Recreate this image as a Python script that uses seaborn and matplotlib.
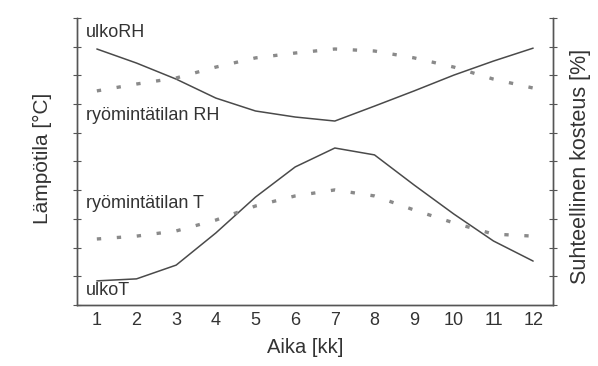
import matplotlib
matplotlib.use('Agg')
import matplotlib.pyplot as plt
import seaborn as sns
import pandas as pd

kuukausi = list(range(1, 13))
# asteikkoyksiköt 0..10 (akseleilla ei lukuarvoja)
ulko_rh = [8.92, 8.43, 7.87, 7.21, 6.76, 6.55, 6.41, 6.93, 7.46, 8.01, 8.50, 8.95]
ryomintatila_rh = [7.46, 7.70, 7.91, 8.29, 8.61, 8.78, 8.92, 8.85, 8.61, 8.29, 7.87, 7.56]
ulko_t = [0.84, 0.91, 1.39, 2.51, 3.76, 4.81, 5.47, 5.23, 4.18, 3.17, 2.23, 1.53]
ryomintatila_t = [2.30, 2.40, 2.58, 2.96, 3.45, 3.80, 4.01, 3.80, 3.31, 2.86, 2.47, 2.40]

df = pd.DataFrame({'kk': kuukausi, 'ulkoRH': ulko_rh, 'ryomRH': ryomintatila_rh,
                   'ulkoT': ulko_t, 'ryomT': ryomintatila_t})

sns.set_style('white')
plt.rcParams['font.family'] = ['Liberation Sans', 'DejaVu Sans']

fig = plt.figure(figsize=(5.98, 3.66), dpi=100)
ax = fig.add_axes([0.1288, 0.1667, 0.7959, 0.7841])

viiva = '#4a4a4a'
piste = '#8a8a8a'
sns.lineplot(data=df, x='kk', y='ulkoRH', ax=ax, color=viiva, linewidth=1.1)
sns.lineplot(data=df, x='kk', y='ulkoT', ax=ax, color=viiva, linewidth=1.1)
sns.lineplot(data=df, x='kk', y='ryomRH', ax=ax, color=piste, linewidth=2.4,
             linestyle=(0, (1.3, 4.7)))
sns.lineplot(data=df, x='kk', y='ryomT', ax=ax, color=piste, linewidth=2.4,
             linestyle=(0, (1.3, 4.7)))

ax.set_xlim(0.5, 12.5)
ax.set_ylim(0, 10)
ax.set_xticks([k + 0.5 for k in range(0, 13)])
ax.set_xticklabels([])
ax.set_xticks(kuukausi, minor=True)
ax.set_xticklabels([str(k) for k in kuukausi], minor=True, fontsize=13, color='#333333')
ax.tick_params(axis='x', which='minor', length=0, pad=5)
ax.tick_params(axis='x', which='major', direction='inout', length=6, color='#555555')
ax.set_yticks(range(0, 11))
ax.set_yticklabels([])
ax.tick_params(axis='y', direction='inout', length=6, color='#555555', left=True)

ax2 = ax.twinx()
ax2.set_ylim(0, 10)
ax2.set_yticks(range(0, 11))
ax2.set_yticklabels([])
ax2.tick_params(axis='y', direction='inout', length=6, color='#555555', right=True)

for a in (ax, ax2):
    a.spines['top'].set_visible(False)
    for s in ('left', 'right', 'bottom'):
        a.spines[s].set_color('#555555')
        a.spines[s].set_linewidth(1.0)

ax.set_xlabel('Aika [kk]', fontsize=14.5, color='#333333')
ax.set_ylabel('Lämpötila [°C]', fontsize=15, color='#333333')
ax2.set_ylabel('Suhteellinen kosteus [%]', fontsize=15.5, color='#333333', rotation=90)
ax.xaxis.set_label_coords(0.479, -0.115)
ax.yaxis.set_label_coords(-0.0525, 0.512)
ax2.yaxis.set_label_coords(1.036, 0.484)

teksti = dict(fontsize=13, color='#333333', va='center', ha='left')
ax.text(0.72, 9.48, 'ulkoRH', **teksti)
ax.text(0.72, 6.62, 'ryömintätilan RH', **teksti)
ax.text(0.72, 3.55, 'ryömintätilan T', **teksti)
ax.text(0.72, 0.49, 'ulkoT', **teksti)

fig.savefig('out.png', dpi=100, facecolor='white')
